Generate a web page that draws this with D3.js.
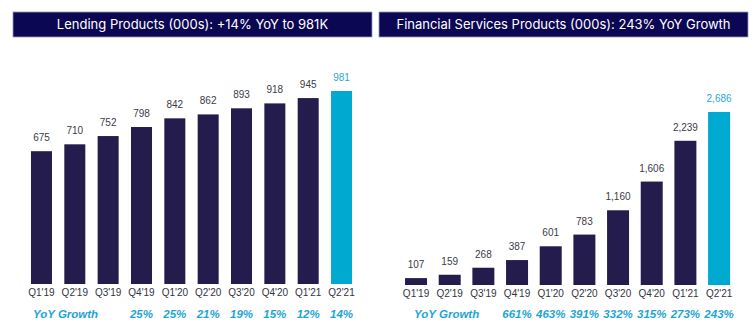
<!DOCTYPE html>
<html>
<head>
<meta charset="utf-8">
<script src="https://cdn.jsdelivr.net/npm/d3@7"></script>
<style>
    body { margin: 0; background: #fff; }
    svg { display: block; }
</style>
</head>
<body>
<div id="chart"></div>
<script>
// Data
let quarters = ["Q1'19", "Q2'19", "Q3'19", "Q4'19", "Q1'20", "Q2'20", "Q3'20", "Q4'20", "Q1'21", "Q2'21"];
let lendingValues = [675, 710, 752, 798, 842, 862, 893, 918, 945, 981];
let lendingGrowth = [null, null, null, 25, 25, 21, 19, 15, 12, 14];
let financialValues = [107, 159, 268, 387, 601, 783, 1160, 1606, 2239, 2686];
let financialGrowth = [null, null, null, 661, 463, 391, 332, 315, 273, 243];
let titles = ["Lending Products (000s): +14% YoY to 981K", "Financial Services Products (000s): 243% YoY Growth"];

let navy = "#231c4d";
let cyan = "#00a9cf";
let growthColor = "#1ea5d4";

let svg = d3.select("#chart").append("svg")
    .attr("width", 753)
    .attr("height", 332);

function drawPanel(opts) {
    let g = svg.append("g");

    // Title banner
    g.append("rect")
        .attr("x", opts.box[0])
        .attr("y", 12)
        .attr("width", opts.box[1] - opts.box[0])
        .attr("height", 25)
        .attr("fill", "#0c0752")
        .attr("stroke", "#9a97c6")
        .attr("stroke-width", 0.8);

    g.append("text")
        .attr("x", (opts.box[0] + opts.box[1]) / 2)
        .attr("y", 29)
        .attr("text-anchor", "middle")
        .attr("fill", "#fff")
        .style("font-family", "Inter, 'Noto Sans', sans-serif")
        .style("font-size", "13px")
        .text(opts.title);

    // Scales
    let x = d3.scaleBand()
        .domain(quarters)
        .range(opts.xRange)
        .paddingInner(opts.pad)
        .paddingOuter(opts.pad / 2);

    let y = d3.scaleLinear()
        .domain([0, d3.max(opts.values)])
        .range([opts.base, opts.top]);

    let last = quarters.length - 1;

    // Bars
    g.selectAll(".bar")
        .data(opts.values)
        .enter()
        .append("rect")
        .attr("class", "bar")
        .attr("x", (d, i) => x(quarters[i]))
        .attr("y", d => y(d))
        .attr("width", x.bandwidth())
        .attr("height", d => opts.base - y(d))
        .attr("fill", (d, i) => i == last ? cyan : navy);

    // Value labels
    g.selectAll(".val")
        .data(opts.values)
        .enter()
        .append("text")
        .attr("class", "val")
        .attr("x", (d, i) => x(quarters[i]) + x.bandwidth() / 2)
        .attr("y", d => y(d) - 10)
        .attr("text-anchor", "middle")
        .attr("fill", (d, i) => i == last ? "#2aa7d0" : "#3b3b48")
        .style("font-family", "'Liberation Sans', Arial, sans-serif")
        .style("font-size", "10px")
        .text(d => d3.format(",")(d));

    // X axis (labels only)
    let xAxis = d3.axisBottom(x).tickSize(0).tickPadding(5);
    let ax = g.append("g")
        .attr("transform", `translate(0, ${opts.base})`)
        .call(xAxis);
    ax.select(".domain").remove();
    ax.selectAll("text")
        .attr("fill", "#33333f")
        .style("font-family", "'Liberation Sans', Arial, sans-serif")
        .style("font-size", "10px");

    // YoY growth row
    g.append("text")
        .attr("x", x(quarters[0]) + opts.growthLabelOffset)
        .attr("y", 318)
        .attr("fill", growthColor)
        .style("font-family", "'Liberation Sans', Arial, sans-serif")
        .style("font-size", "11.5px")
        .style("font-weight", "bold")
        .style("font-style", "italic")
        .text("YoY Growth");

    let growthData = opts.growth
        .map((d, i) => ({ q: quarters[i], v: d }))
        .filter(d => d.v != null);

    g.selectAll(".growth")
        .data(growthData)
        .enter()
        .append("text")
        .attr("class", "growth")
        .attr("x", d => x(d.q) + x.bandwidth() / 2)
        .attr("y", 318)
        .attr("text-anchor", "middle")
        .attr("fill", growthColor)
        .style("font-family", "'Liberation Sans', Arial, sans-serif")
        .style("font-size", "11.5px")
        .style("font-weight", "bold")
        .style("font-style", "italic")
        .text(d => d.v + "%");
}

drawPanel({
    title: titles[0],
    box: [13, 372],
    values: lendingValues,
    growth: lendingGrowth,
    xRange: [24.8, 358.2],
    pad: 0.37,
    base: 284,
    top: 91,
    growthLabelOffset: 2
});

drawPanel({
    title: titles[1],
    box: [379, 748],
    values: financialValues,
    growth: financialGrowth,
    xRange: [399.2, 735.9],
    pad: 0.347,
    base: 285,
    top: 112,
    growthLabelOffset: 9
});
</script>
</body>
</html>
